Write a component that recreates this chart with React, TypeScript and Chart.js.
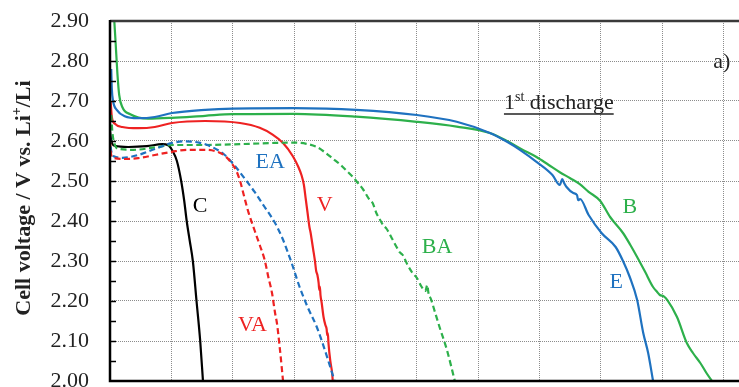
import { useEffect, useRef } from 'react';
import { Chart, registerables } from 'chart.js';

Chart.register(...registerables);

const FONT = '"Liberation Serif", "Times New Roman", serif';
const BLUE = '#1f72c0';
const RED = '#ee2222';
const GREEN = '#2db04b';
const BLACK = '#000000';

type Pt = [number, number];

// Capacity (grid units) vs. cell voltage (V vs. Li+/Li), first discharge
const seriesC: Pt[] = [
  [0, 2.625], [0.02, 2.6], [0.08, 2.588], [0.3, 2.585], [0.6, 2.587], [0.85, 2.592],
  [0.95, 2.589], [1.02, 2.575], [1.09, 2.55], [1.16, 2.5], [1.21, 2.45], [1.25, 2.4],
  [1.3, 2.35], [1.35, 2.3], [1.41, 2.2], [1.47, 2.1], [1.515, 2.0],
];

const seriesV: Pt[] = [
  [0.01, 2.7], [0.03, 2.66], [0.08, 2.643], [0.2, 2.635], [0.46, 2.632], [0.73, 2.635],
  [1.01, 2.645], [1.55, 2.65], [2.12, 2.645], [2.44, 2.633], [2.65, 2.616], [2.82, 2.595],
  [2.98, 2.562], [3.07, 2.535], [3.12, 2.515], [3.16, 2.49], [3.19, 2.455], [3.22, 2.42],
  [3.25, 2.385], [3.27, 2.37], [3.29, 2.35], [3.31, 2.33], [3.34, 2.3], [3.36, 2.275],
  [3.38, 2.265], [3.4, 2.245], [3.41, 2.228], [3.42, 2.236], [3.43, 2.215], [3.45, 2.195],
  [3.48, 2.16], [3.51, 2.14], [3.53, 2.13], [3.54, 2.115], [3.55, 2.12], [3.56, 2.095],
  [3.59, 2.05], [3.62, 2.02], [3.63, 2.0],
];

const seriesE: Pt[] = [
  [0.02, 2.78], [0.03, 2.73], [0.05, 2.7], [0.11, 2.678], [0.24, 2.662], [0.46, 2.657],
  [0.73, 2.66], [1.01, 2.67], [1.55, 2.678], [2.0, 2.681], [3.0, 2.682], [4.01, 2.678],
  [5.0, 2.665], [5.65, 2.648], [6.19, 2.62], [6.47, 2.598], [6.68, 2.578], [6.95, 2.548],
  [7.21, 2.515], [7.33, 2.49], [7.37, 2.505], [7.4, 2.495], [7.44, 2.485], [7.55, 2.47],
  [7.61, 2.465], [7.63, 2.452], [7.66, 2.455], [7.8, 2.415], [8.01, 2.37], [8.24, 2.335],
  [8.36, 2.3], [8.47, 2.26], [8.59, 2.203], [8.69, 2.12], [8.77, 2.07], [8.85, 2.0],
];

const seriesB: Pt[] = [
  [0.05, 2.95], [0.09, 2.85], [0.12, 2.77], [0.15, 2.715], [0.2, 2.685], [0.33, 2.667],
  [0.62, 2.656], [1.01, 2.658], [1.55, 2.663], [2.0, 2.667], [3.0, 2.668], [4.01, 2.661],
  [5.0, 2.648], [5.65, 2.636], [6.19, 2.62], [6.47, 2.6], [6.7, 2.58], [6.95, 2.56],
  [7.15, 2.54], [7.33, 2.522], [7.5, 2.507], [7.65, 2.493], [7.8, 2.473], [7.99, 2.45],
  [8.15, 2.41], [8.36, 2.37], [8.48, 2.34], [8.59, 2.31], [8.72, 2.273], [8.85, 2.235],
  [8.92, 2.222], [8.96, 2.215], [9.02, 2.212], [9.08, 2.203], [9.24, 2.16], [9.4, 2.095],
  [9.5, 2.07], [9.62, 2.045], [9.72, 2.02], [9.81, 2.0],
];

const seriesEA: Pt[] = [
  [0, 2.61], [0.02, 2.575], [0.06, 2.562], [0.2, 2.558], [0.46, 2.565], [0.73, 2.58],
  [0.98, 2.594], [1.2, 2.599], [1.45, 2.596], [1.65, 2.586], [1.87, 2.565], [2.04, 2.537],
  [2.2, 2.505], [2.36, 2.472], [2.52, 2.435], [2.69, 2.395], [2.82, 2.353], [2.96, 2.295],
  [3.09, 2.235], [3.22, 2.185], [3.37, 2.135], [3.5, 2.078], [3.66, 2.0],
];

const seriesVA: Pt[] = [
  [0, 2.6], [0.02, 2.565], [0.06, 2.558], [0.24, 2.555], [0.46, 2.557], [0.73, 2.565],
  [1.01, 2.573], [1.27, 2.578], [1.55, 2.578], [1.75, 2.573], [1.88, 2.562], [1.98, 2.545],
  [2.06, 2.525], [2.12, 2.5], [2.18, 2.465], [2.25, 2.425], [2.36, 2.375], [2.44, 2.34],
  [2.52, 2.303], [2.58, 2.26], [2.64, 2.22], [2.69, 2.17], [2.72, 2.145], [2.77, 2.078],
  [2.82, 2.0],
];

const seriesBA: Pt[] = [
  [0.02, 2.665], [0.04, 2.62], [0.08, 2.59], [0.15, 2.58], [0.38, 2.578], [0.77, 2.585],
  [1.03, 2.59], [1.47, 2.59], [2.29, 2.593], [2.65, 2.595], [2.98, 2.596], [3.2, 2.593],
  [3.37, 2.585], [3.5, 2.572], [3.63, 2.556], [3.76, 2.54], [3.86, 2.525], [3.96, 2.51],
  [4.04, 2.495], [4.12, 2.48], [4.23, 2.453], [4.28, 2.445], [4.34, 2.42], [4.4, 2.403],
  [4.45, 2.39], [4.51, 2.38], [4.6, 2.355], [4.67, 2.335], [4.72, 2.322], [4.77, 2.315],
  [4.85, 2.29], [4.93, 2.27], [5.0, 2.258], [5.08, 2.235], [5.14, 2.225], [5.17, 2.24],
  [5.19, 2.22], [5.23, 2.205], [5.3, 2.17], [5.37, 2.135], [5.49, 2.078], [5.62, 2.0],
];

const yTickLabels = ['2.00', '2.10', '2.20', '2.30', '2.40', '2.50', '2.60', '2.70', '2.80', '2.90'];
const yMinorTicks = [2.05, 2.1, 2.15, 2.2, 2.25, 2.3, 2.35, 2.4, 2.45, 2.5, 2.55, 2.6, 2.65, 2.7, 2.75, 2.8, 2.85];

const curveLabels = [
  { text: 'C', x: 1.47, y: 2.437, color: BLACK },
  { text: 'EA', x: 2.61, y: 2.546, color: BLUE },
  { text: 'V', x: 3.5, y: 2.44, color: RED },
  { text: 'VA', x: 2.32, y: 2.14, color: RED },
  { text: 'BA', x: 5.33, y: 2.334, color: GREEN },
  { text: 'B', x: 8.47, y: 2.434, color: GREEN },
  { text: 'E', x: 8.25, y: 2.246, color: BLUE },
];

const captionAt = { x: 6.42, y: 2.68 };
const panelTagAt = { x: 9.97, y: 2.797 };

const toXY = (s: Pt[]) => s.map(([x, y]) => ({ x, y }));

const annotate = {
  id: 'annotate',
  afterDatasetsDraw(chart: any) {
    const { ctx, chartArea: a } = chart;
    const xs = chart.scales.x;
    const ys = chart.scales.y;
    ctx.save();

    // plot frame
    ctx.lineCap = 'butt';
    ctx.strokeStyle = '#3a3a3a';
    ctx.lineWidth = 2.5;
    ctx.beginPath();
    ctx.moveTo(a.left, a.top);
    ctx.lineTo(a.right, a.top);
    ctx.stroke();
    ctx.strokeStyle = '#000';
    ctx.beginPath();
    ctx.moveTo(a.left, a.top - 1);
    ctx.lineTo(a.left, a.bottom);
    ctx.lineTo(a.right, a.bottom);
    ctx.stroke();

    // inward tick marks on the voltage axis
    ctx.lineWidth = 1.5;
    for (const v of yMinorTicks) {
      const py = Math.round(ys.getPixelForValue(v)) + 0.5;
      ctx.beginPath();
      ctx.moveTo(a.left, py);
      ctx.lineTo(a.left + 6, py);
      ctx.stroke();
    }

    // curve labels
    ctx.font = `22px ${FONT}`;
    ctx.textAlign = 'center';
    ctx.textBaseline = 'middle';
    for (const l of curveLabels) {
      ctx.fillStyle = l.color;
      ctx.fillText(l.text, xs.getPixelForValue(l.x), ys.getPixelForValue(l.y));
    }

    // "1st discharge" caption, underlined
    ctx.fillStyle = '#222';
    ctx.textAlign = 'left';
    ctx.textBaseline = 'alphabetic';
    let cx = xs.getPixelForValue(captionAt.x);
    const cy = ys.getPixelForValue(captionAt.y);
    const x0 = cx;
    ctx.font = `22px ${FONT}`;
    ctx.fillText('1', cx, cy);
    cx += ctx.measureText('1').width;
    ctx.font = `14px ${FONT}`;
    ctx.fillText('st', cx, cy - 8);
    cx += ctx.measureText('st').width;
    ctx.font = `22px ${FONT}`;
    ctx.fillText(' discharge', cx, cy);
    cx += ctx.measureText(' discharge').width;
    ctx.strokeStyle = '#222';
    ctx.lineWidth = 1.5;
    ctx.beginPath();
    ctx.moveTo(x0, cy + 5);
    ctx.lineTo(cx, cy + 5);
    ctx.stroke();

    // panel tag
    ctx.textAlign = 'center';
    ctx.textBaseline = 'middle';
    ctx.fillText('a)', xs.getPixelForValue(panelTagAt.x), ys.getPixelForValue(panelTagAt.y));

    // voltage axis title
    const parts = [
      { t: 'Cell voltage / V vs. Li', size: 22, dy: 0 },
      { t: '+', size: 14, dy: -9 },
      { t: '/Li', size: 22, dy: 0 },
    ];
    let total = 0;
    for (const p of parts) {
      ctx.font = `bold ${p.size}px ${FONT}`;
      total += ctx.measureText(p.t).width;
    }
    ctx.translate(30, (a.top + a.bottom) / 2 - 3);
    ctx.rotate(-Math.PI / 2);
    ctx.textAlign = 'left';
    ctx.textBaseline = 'alphabetic';
    ctx.fillStyle = '#222';
    let tx = -total / 2;
    for (const p of parts) {
      ctx.font = `bold ${p.size}px ${FONT}`;
      ctx.fillText(p.t, tx, p.dy);
      tx += ctx.measureText(p.t).width;
    }
    ctx.restore();
  },
};

const gridStyle = { color: '#8c8c8c', lineWidth: 1, drawTicks: false };

export default function App() {
  const canvasRef = useRef<HTMLCanvasElement | null>(null);

  useEffect(() => {
    const canvas = canvasRef.current;
    if (!canvas) return;
    const line = (data: Pt[], color: string, dashed: boolean) => ({
      data: toXY(data),
      borderColor: color,
      backgroundColor: color,
      borderWidth: 2.2,
      borderDash: dashed ? [6, 3.5] : [],
      pointRadius: 0,
      cubicInterpolationMode: 'monotone' as const,
      fill: false,
    });
    const chart = new Chart(canvas, {
      type: 'line',
      data: {
        datasets: [
          line(seriesVA, RED, true),
          line(seriesEA, BLUE, true),
          line(seriesBA, GREEN, true),
          line(seriesV, RED, false),
          line(seriesE, BLUE, false),
          line(seriesB, GREEN, false),
          line(seriesC, BLACK, false),
        ],
      },
      options: {
        responsive: false,
        animation: false,
        devicePixelRatio: 1,
        layout: { padding: { left: 0, top: 21, right: 15, bottom: 19 } },
        plugins: { legend: { display: false }, tooltip: { enabled: false } },
        scales: {
          x: {
            type: 'linear',
            min: 0,
            max: 11,
            ticks: { display: false, stepSize: 1 },
            grid: gridStyle,
            border: { display: false, dash: [1, 1] },
            afterFit: (s: any) => {
              s.height = 0;
              s.paddingLeft = 0;
              s.paddingRight = 0;
            },
          },
          y: {
            type: 'linear',
            min: 2,
            max: 2.9,
            ticks: {
              stepSize: 0.1,
              padding: 21,
              color: '#222',
              font: { family: FONT, size: 22 },
              callback: (_v: any, i: number) => yTickLabels[i],
            },
            grid: gridStyle,
            border: { display: false, dash: [1, 1] },
            afterFit: (s: any) => {
              s.width = 110;
              s.paddingTop = 0;
              s.paddingBottom = 0;
            },
          },
        },
      },
      plugins: [annotate],
    });
    return () => chart.destroy();
  }, []);

  return (
    <div
      style={{
        position: 'fixed',
        left: 0,
        top: 0,
        width: 739,
        height: 387,
        overflow: 'hidden',
        background: '#fff',
      }}
    >
      <canvas ref={canvasRef} width={800} height={400} style={{ display: 'block' }} />
    </div>
  );
}
